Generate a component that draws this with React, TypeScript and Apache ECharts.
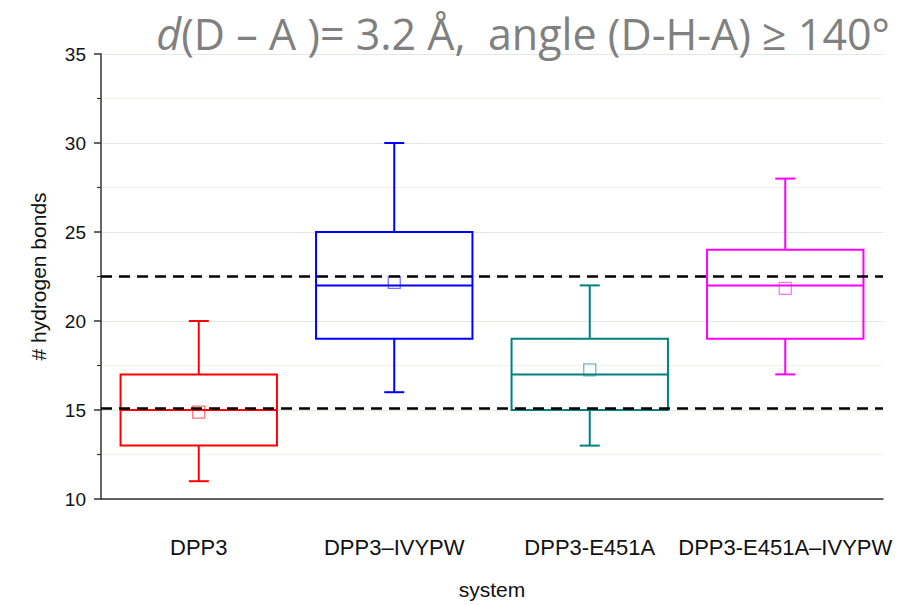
import React, { useEffect, useRef } from "react";
import * as echarts from "echarts";

const categories = ["DPP3", "DPP3\u2013IVYPW", "DPP3-E451A", "DPP3-E451A\u2013IVYPW"];
const whiskerMin = [11, 16, 13, 17];
const q1 = [13, 19, 15, 19];
const median = [15, 22, 17, 22];
const q3 = [17, 25, 19, 24];
const whiskerMax = [20, 30, 22, 28];
const means = [14.88, 22.17, 17.25, 21.83];
const refLines = [22.5, 15.1];
const yTicks = { min: 10, max: 35, interval: 5 };
const colors = ["#ff0000", "#0000ff", "#008080", "#ff00ff"];

export default function App() {
  const ref = useRef<HTMLDivElement>(null);
  useEffect(() => {
    document.body.style.margin = "0";
    if (!ref.current) return;
    const chart = echarts.init(ref.current, null, { renderer: "svg" });
    const data = categories.map((_, i) => [i, whiskerMin[i], q1[i], median[i], q3[i], whiskerMax[i], means[i]]);
    const axisFont = "Liberation Sans";
    chart.setOption({
      animation: false,
      backgroundColor: "#ffffff",
      title: {
        text: "{i|d}{n|(D \u2013 A )= 3.2 \u00c5,  angle (D-H-A) \u2265 140\u00b0}",
        right: 24,
        top: 2,
        textStyle: {
          rich: {
            i: { fontStyle: "italic", fontWeight: "normal", fontSize: 43, lineHeight: 52, color: "#808080", fontFamily: "Open Sans" },
            n: { fontWeight: "normal", fontSize: 43, lineHeight: 52, color: "#808080", fontFamily: "Open Sans" },
          },
        },
      },
      grid: { left: 101, width: 782, top: 54, height: 449 },
      xAxis: {
        type: "category",
        data: categories,
        name: "system",
        nameLocation: "middle",
        nameGap: 80,
        nameTextStyle: { fontSize: 21, color: "#111", fontFamily: axisFont },
        axisLine: { lineStyle: { color: "#333", width: 1.5 } },
        axisTick: { alignWithLabel: true, length: 8, lineStyle: { color: "#333", width: 1.5 } },
        axisLabel: { fontSize: 22, color: "#111", margin: 37, interval: 0, fontFamily: axisFont },
        splitLine: { show: false },
      },
      yAxis: {
        type: "value",
        min: yTicks.min,
        max: yTicks.max,
        interval: yTicks.interval,
        name: "# hydrogen bonds",
        nameLocation: "middle",
        nameGap: 52,
        nameTextStyle: { fontSize: 21, color: "#111", fontFamily: axisFont },
        axisLine: { show: true, lineStyle: { color: "#333", width: 1.5 } },
        axisTick: { show: true, length: 7, lineStyle: { color: "#333", width: 1.5 } },
        minorTick: { show: true, splitNumber: 2, length: 4, lineStyle: { color: "#333", width: 1.2 } },
        axisLabel: { fontSize: 19, color: "#111", margin: 15, fontFamily: axisFont },
        splitLine: { show: true, lineStyle: { color: "#e2ebe2", width: 1 } },
        minorSplitLine: { show: true, lineStyle: { color: "#f4f2e8", width: 1 } },
      },
      series: [
        {
          type: "custom",
          data,
          encode: { x: 0, y: [1, 2, 3, 4, 5, 6] },
          z: 2,
          renderItem: (params: any, api: any) => {
            const cat = api.value(0);
            const c = colors[params.dataIndex];
            const bw = api.size([1, 0])[0];
            const half = bw * 0.4;
            const cap = 10;
            const pMin = api.coord([cat, api.value(1)]);
            const pQ1 = api.coord([cat, api.value(2)]);
            const pMed = api.coord([cat, api.value(3)]);
            const pQ3 = api.coord([cat, api.value(4)]);
            const pMax = api.coord([cat, api.value(5)]);
            const pMean = api.coord([cat, api.value(6)]);
            const x = pMed[0];
            const ls = { stroke: c, lineWidth: 2, fill: "none" };
            return {
              type: "group",
              children: [
                { type: "rect", shape: { x: x - half, y: pQ3[1], width: 2 * half, height: pQ1[1] - pQ3[1] }, style: ls },
                { type: "line", shape: { x1: x - half, y1: pMed[1], x2: x + half, y2: pMed[1] }, style: ls },
                { type: "line", shape: { x1: x, y1: pQ3[1], x2: x, y2: pMax[1] }, style: ls },
                { type: "line", shape: { x1: x, y1: pQ1[1], x2: x, y2: pMin[1] }, style: ls },
                { type: "line", shape: { x1: x - cap, y1: pMax[1], x2: x + cap, y2: pMax[1] }, style: ls },
                { type: "line", shape: { x1: x - cap, y1: pMin[1], x2: x + cap, y2: pMin[1] }, style: ls },
                { type: "rect", shape: { x: x - 6, y: pMean[1] - 6, width: 12, height: 12 }, style: { stroke: c, lineWidth: 1.3, fill: "none", opacity: 0.55 } },
              ],
            };
          },
        },
        {
          type: "line",
          data: [],
          z: 5,
          markLine: {
            silent: true,
            symbol: ["none", "none"],
            label: { show: false },
            lineStyle: { color: "#000", type: [11, 7], width: 2.5 },
            data: refLines.map((v) => ({ yAxis: v })),
          },
        },
      ],
    });
    return () => chart.dispose();
  }, []);
  return <div ref={ref} style={{ width: 919, height: 605 }} />;
}
